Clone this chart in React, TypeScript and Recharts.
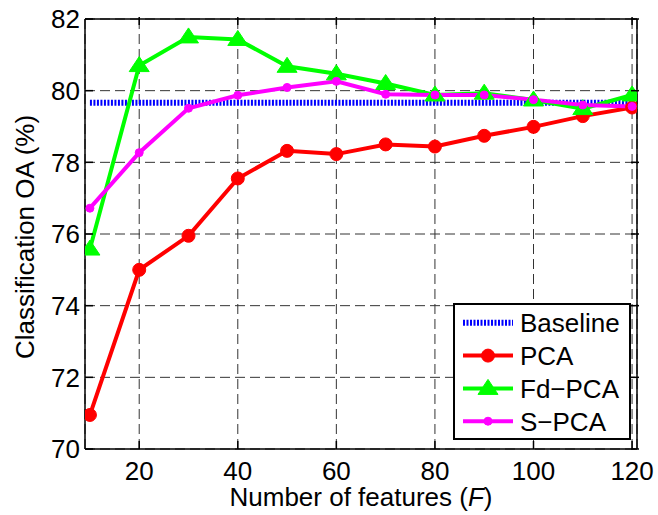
import React from 'react';
import { LineChart, Line, XAxis, YAxis, CartesianGrid, Legend } from 'recharts';

const features = [10, 20, 30, 40, 50, 60, 70, 80, 90, 100, 110, 120];
const baseline = [79.66, 79.66, 79.66, 79.66, 79.66, 79.66, 79.66, 79.66, 79.66, 79.66, 79.66, 79.66];
const pca = [70.95, 75.0, 75.95, 77.55, 78.32, 78.23, 78.5, 78.44, 78.74, 78.99, 79.29, 79.53];
const fdPca = [75.58, 80.7, 81.5, 81.43, 80.68, 80.47, 80.2, 79.88, 79.93, 79.74, 79.5, 79.88];
const sPca = [76.72, 78.27, 79.51, 79.87, 80.09, 80.26, 79.9, 79.88, 79.88, 79.75, 79.6, 79.56];
const xTicks = [20, 40, 60, 80, 100, 120];
const yTicks = [70, 72, 74, 76, 78, 80, 82];
const xDomain = [9, 121];
const yDomain = [70, 82];

const data = features.map((f, i) => ({
  f,
  baseline: baseline[i],
  pca: pca[i],
  fd: fdPca[i],
  s: sPca[i],
}));

const FONT = '"Liberation Sans", Arial, Helvetica, sans-serif';
const FS = 26;
const TICK_IN = 8;

const BottomTick = (p: any) => (
  <g>
    <line x1={p.x} y1={p.y} x2={p.x} y2={p.y - TICK_IN} stroke="#000" strokeWidth={1.5} />
    <text x={p.x} y={p.y + 30.5} textAnchor="middle" fontSize={FS} fontFamily={FONT} fill="#000">
      {p.payload.value}
    </text>
  </g>
);

const LeftTick = (p: any) => (
  <g>
    <line x1={p.x} y1={p.y} x2={p.x + TICK_IN} y2={p.y} stroke="#000" strokeWidth={1.5} />
    <text x={p.x - 5} y={p.y} dy="0.36em" textAnchor="end" fontSize={FS} fontFamily={FONT} fill="#000">
      {p.payload.value}
    </text>
  </g>
);

const TopTick = (p: any) => (
  <line x1={p.x} y1={p.y} x2={p.x} y2={p.y + TICK_IN} stroke="#000" strokeWidth={1.5} />
);

const RightTick = (p: any) => (
  <line x1={p.x} y1={p.y} x2={p.x - TICK_IN} y2={p.y} stroke="#000" strokeWidth={1.5} />
);

const Triangle = (p: any) => {
  const { cx, cy } = p;
  if (cx == null || cy == null) return null;
  return (
    <polygon
      points={`${cx},${cy - 9} ${cx - 10},${cy + 6} ${cx + 10},${cy + 6}`}
      fill="#00ff00"
      stroke="#00ff00"
      strokeWidth={1}
    />
  );
};

const SERIES = [
  { name: 'Baseline', color: '#0000ff', kind: 'dotted' },
  { name: 'PCA', color: '#ff0000', kind: 'circle' },
  { name: 'Fd\u2212PCA', color: '#00ff00', kind: 'triangle' },
  { name: 'S\u2212PCA', color: '#ff00ff', kind: 'small' },
];

const LegendBox = () => (
  <svg width={178} height={137} style={{ display: 'block' }}>
    <rect x={1} y={1} width={176} height={135} fill="#fff" stroke="#000" strokeWidth={2} />
    {SERIES.map((s, i) => {
      const cy = 19.8 + i * 32.8;
      return (
        <g key={s.name}>
          {s.kind === 'dotted' ? (
            <line x1={10} y1={cy} x2={60} y2={cy} stroke={s.color} strokeWidth={6} strokeDasharray="2 1.5" />
          ) : (
            <line x1={10} y1={cy} x2={60} y2={cy} stroke={s.color} strokeWidth={4} />
          )}
          {s.kind === 'circle' && <circle cx={35} cy={cy} r={6.5} fill={s.color} stroke={s.color} />}
          {s.kind === 'small' && <circle cx={35} cy={cy} r={4} fill={s.color} stroke={s.color} />}
          {s.kind === 'triangle' && (
            <polygon points={`35,${cy - 9} 25,${cy + 6} 45,${cy + 6}`} fill={s.color} stroke={s.color} />
          )}
          <text x={67} y={cy + 9.3} fontSize={FS} fontFamily={FONT} fill="#000">
            {s.name}
          </text>
        </g>
      );
    })}
  </svg>
);

export default function App() {
  return (
    <div style={{ position: 'absolute', left: 0, top: 0, background: '#fff' }}>
      <LineChart width={658} height={515} data={data} margin={{ top: 0, right: 0, bottom: 0, left: 0 }}>
        <CartesianGrid stroke="#333" strokeDasharray="10 5" strokeWidth={1} />
        <XAxis
          dataKey="f"
          type="number"
          domain={xDomain}
          ticks={xTicks}
          allowDataOverflow
          interval={0}
          height={66}
          tickSize={0}
          tickMargin={0}
          axisLine={{ stroke: '#000', strokeWidth: 1.5 }}
          tick={(p: any) => <BottomTick {...p} />}
          label={{
            content: () => (
              <text x={361} y={506} textAnchor="middle" fontSize={FS} fontFamily={FONT} fill="#000">
                Number of features (<tspan fontStyle="italic">F</tspan>)
              </text>
            ),
          }}
        />
        <XAxis
          xAxisId="top"
          orientation="top"
          dataKey="f"
          type="number"
          domain={xDomain}
          ticks={xTicks}
          allowDataOverflow
          interval={0}
          height={19}
          tickSize={0}
          axisLine={{ stroke: '#000', strokeWidth: 1.5 }}
          tick={(p: any) => <TopTick {...p} />}
        />
        <YAxis
          type="number"
          domain={yDomain}
          ticks={yTicks}
          allowDataOverflow
          interval={0}
          width={85}
          tickSize={0}
          tickMargin={0}
          axisLine={{ stroke: '#000', strokeWidth: 1.5 }}
          tick={(p: any) => <LeftTick {...p} />}
          label={{
            content: () => (
              <text
                x={33.5}
                y={237}
                transform="rotate(-90, 33.5, 237)"
                textAnchor="middle"
                fontSize={FS}
                fontFamily={FONT}
                fill="#000"
              >
                Classification OA (%)
              </text>
            ),
          }}
        />
        <YAxis
          yAxisId="right"
          orientation="right"
          type="number"
          domain={yDomain}
          ticks={yTicks}
          allowDataOverflow
          interval={0}
          width={21}
          tickSize={0}
          axisLine={{ stroke: '#000', strokeWidth: 1.5 }}
          tick={(p: any) => <RightTick {...p} />}
        />
        <Line
          dataKey="baseline"
          stroke="#0000ff"
          strokeWidth={6}
          strokeDasharray="2 1.5"
          dot={false}
          activeDot={false}
          isAnimationActive={false}
        />
        <Line
          dataKey="pca"
          stroke="#ff0000"
          strokeWidth={4}
          dot={{ r: 6.5, fill: '#ff0000', stroke: '#ff0000', strokeWidth: 1 }}
          activeDot={false}
          isAnimationActive={false}
        />
        <Line
          dataKey="fd"
          stroke="#00ff00"
          strokeWidth={4}
          dot={(p: any) => <Triangle key={`t${p.index}`} {...p} />}
          activeDot={false}
          isAnimationActive={false}
        />
        <Line
          dataKey="s"
          stroke="#ff00ff"
          strokeWidth={4}
          dot={{ r: 4, fill: '#ff00ff', stroke: '#ff00ff', strokeWidth: 1 }}
          activeDot={false}
          isAnimationActive={false}
        />
        <Legend
          layout="vertical"
          align="center"
          verticalAlign="middle"
          wrapperStyle={{ left: 453, top: 303, width: 178, height: 137 }}
          content={() => <LegendBox />}
        />
      </LineChart>
    </div>
  );
}
